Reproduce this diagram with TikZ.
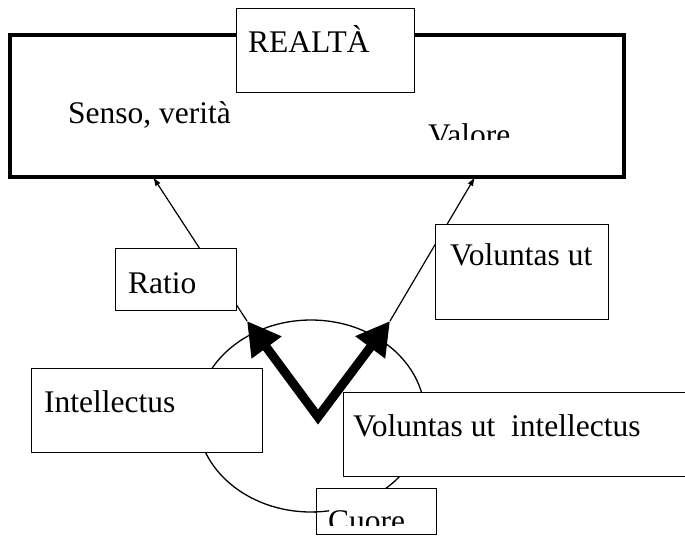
\documentclass[tikz,border=0pt]{standalone}
\usepackage{fontspec}
\setmainfont{Liberation Serif}
\usetikzlibrary{arrows.meta}
\tikzset{
  box/.style={draw, fill=white, line width=1.3pt, inner sep=0pt, anchor=north west},
  bigbox/.style={draw, line width=3.5pt, inner sep=0pt, anchor=north west},
  txt/.style={inner sep=0pt, anchor=base west, font=\fontsize{31.5}{36}\selectfont},
  thinarrow/.style={line width=1.2pt, -{Latex[length=9pt,width=6pt]}},
  thickarrow/.style={line width=9pt, miter limit=10,
    {Triangle[length=33pt,width=35pt]}-{Triangle[length=33pt,width=35pt]}},
  ringline/.style={line width=1.3pt}
}
\begin{document}
\begin{tikzpicture}[x=1pt,y=-1pt]
\clip (0,0) rectangle (685,536);
\fill[white] (0,0) rectangle (685,536);
% main frame
\node[bigbox, minimum width=614pt, minimum height=142pt] (real) at (8,33) {};
\node[box, minimum width=178pt, minimum height=84pt] (realbox) at (236,8) {};
\node[txt] (realtxt) at (248,52) {REALTÀ};
\node[txt] (senso) at (68,123) {Senso, verità};
\begin{scope}
  \clip (400,100) rectangle (560,139);
  \node[txt] (valore) at (428,145) {Valore};
\end{scope}
% key points
\coordinate (tipL) at (247,321);
\coordinate (vtx) at (318,417);
\coordinate (tipR) at (390,321);
\coordinate (aL) at (153,177);
\coordinate (aR) at (475,177);
% thin connectors
\draw[thinarrow] (tipL) -- (aL);
\draw[thinarrow] (tipR) -- (aR);
% upper boxes
\node[box, minimum width=121pt, minimum height=62pt] (ratio) at (115,248) {};
\node[txt] (ratiotxt) at (128,293) {Ratio};
\node[box, minimum width=173pt, minimum height=95pt] (vol) at (435,224) {};
\node[txt] (voltxt) at (450,265) {Voluntas ut};
% heart ring
\draw[ringline] (311,416) ellipse [x radius=114pt, y radius=96pt];
% lower boxes
\node[box, minimum width=231pt, minimum height=84pt] (intel) at (31,368) {};
\node[txt] (inteltxt) at (44,412) {Intellectus};
\node[box, minimum width=357pt, minimum height=84pt] (vui) at (343,392) {};
\node[txt] (vuitxt) at (353,436) {Voluntas ut\ \ intellectus};
\node[box, minimum width=120pt, minimum height=46pt] (cuore) at (316,488) {};
\begin{scope}
  \clip (316,488) rectangle (436,525);
  \node[txt] (cuoretxt) at (328,531) {Cuore};
\end{scope}
\begin{scope}
  \clip (314,500) rectangle (329,520);
  \draw[ringline] (311,416) ellipse [x radius=114pt, y radius=96pt];
\end{scope}
% thick V arrow
\draw[thickarrow] (tipL) -- (vtx) -- (tipR);
\end{tikzpicture}
\end{document}
